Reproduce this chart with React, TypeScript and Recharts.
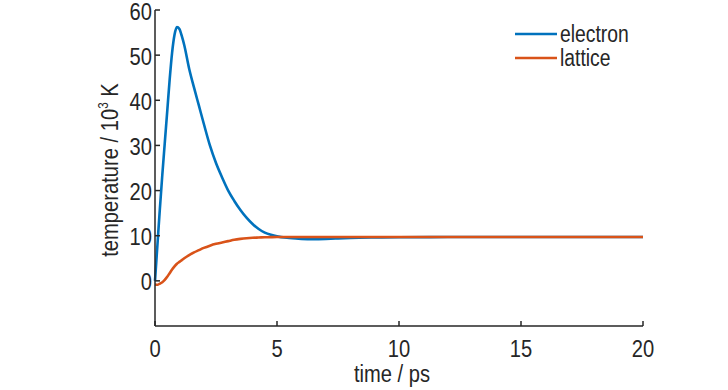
import React from "react";
import { LineChart, Line, XAxis, YAxis, Legend, Label } from "recharts";

// two-temperature model: electron vs lattice temperature (10^3 K) over time (ps)
const times = [
  0, 0.1, 0.2, 0.3, 0.4, 0.5, 0.6, 0.7, 0.8, 0.9, 1.0, 1.1, 1.2, 1.4, 1.6, 1.8, 2.0, 2.25, 2.5,
  2.75, 3.0, 3.25, 3.5, 3.75, 4.0, 4.25, 4.5, 4.75, 5.0, 5.5, 6.0, 6.5, 7.0, 7.5, 8.0, 9.0, 10, 12, 14, 16, 18, 20,
];
const electronTemp = [
  0, 8, 16, 23.5, 30.5, 37.5, 44.5, 50.5, 54.5, 56.2, 55.8, 54.2, 52.2, 47.0, 42.8, 38.8, 34.8, 30.0, 26.1,
  22.9, 20.0, 17.7, 15.7, 14.0, 12.6, 11.5, 10.7, 10.2, 9.85, 9.5, 9.3, 9.25, 9.3, 9.4, 9.5, 9.6, 9.65, 9.7, 9.7, 9.7, 9.7, 9.7,
];
const latticeTemp = [
  -0.8, -0.85, -0.6, -0.3, 0.2, 0.9, 1.7, 2.5, 3.2, 3.8, 4.2, 4.6, 5.0, 5.7, 6.3, 6.8, 7.3, 7.8, 8.2,
  8.5, 8.8, 9.1, 9.3, 9.45, 9.55, 9.6, 9.65, 9.68, 9.7, 9.7, 9.7, 9.7, 9.7, 9.7, 9.7, 9.7, 9.7, 9.7, 9.7, 9.7, 9.7, 9.7,
];
const xTicks = [0, 5, 10, 15, 20];
const yTicks = [0, 10, 20, 30, 40, 50, 60];

const BLUE = "#0072BD";
const ORANGE = "#D95319";
const INK = "#262626";
const FONT = "'Liberation Sans', Arial, sans-serif";
const FS = 24;
const NARROW = 0.84; // the figure uses a condensed face, squeeze regular one

const data = times.map((t, i) => ({ t, electron: electronTemp[i], lattice: latticeTemp[i] }));

function NarrowTick(props: any) {
  const { x, y, payload, textAnchor, dyEm } = props;
  return (
    <g transform={`translate(${x},${y}) scale(${NARROW},1)`}>
      <text
        x={0}
        y={0}
        dy={`${dyEm}em`}
        textAnchor={textAnchor}
        fill={INK}
        style={{ fontFamily: FONT, fontSize: FS }}
      >
        {payload.value}
      </text>
    </g>
  );
}

function YLabel() {
  return (
    <g transform={`translate(118,170) rotate(-90) scale(${NARROW},1)`}>
      <text x={0} y={0} textAnchor="middle" fill={INK} style={{ fontFamily: FONT, fontSize: FS }}>
        temperature / 10
        <tspan fontSize={14} dy={-10}>3</tspan>
        <tspan dy={10}> K</tspan>
      </text>
    </g>
  );
}

function XLabel() {
  return (
    <g transform={`translate(392,382) scale(${NARROW},1)`}>
      <text x={0} y={0} textAnchor="middle" fill={INK} style={{ fontFamily: FONT, fontSize: FS }}>
        time / ps
      </text>
    </g>
  );
}

function LegendBox() {
  const items = [
    { label: "electron", color: BLUE },
    { label: "lattice", color: ORANGE },
  ];
  return (
    <div style={{ fontFamily: FONT, fontSize: 23, color: INK, lineHeight: "24px" }}>
      {items.map((it) => (
        <div key={it.label} style={{ display: "flex", alignItems: "center", height: 24, whiteSpace: "nowrap" }}>
          <svg width={45} height={10} style={{ flex: "none" }}>
            <line x1={0} y1={5} x2={42} y2={5} stroke={it.color} strokeWidth={2.5} />
          </svg>
          <span style={{ display: "inline-block", transform: `scaleX(${NARROW})`, transformOrigin: "left center" }}>
            {it.label}
          </span>
        </div>
      ))}
    </div>
  );
}

export default function App() {
  return (
    <div style={{ position: "absolute", left: 0, top: 0, width: 728, height: 390, background: "#fff" }}>
      <LineChart width={728} height={390} data={data} margin={{ top: 10, right: 85, bottom: 0, left: 95 }}>
        <XAxis
          dataKey="t"
          type="number"
          domain={[0, 20]}
          ticks={xTicks}
          interval={0}
          height={64}
          tick={<NarrowTick dyEm={0.71} />}
          tickSize={-5}
          tickMargin={19}
          stroke={INK}
          strokeWidth={1.5}
        >
          <Label content={XLabel} />
        </XAxis>
        <YAxis
          type="number"
          domain={[-10, 60]}
          ticks={yTicks}
          interval={0}
          width={60}
          tick={<NarrowTick dyEm={0.4} />}
          tickSize={-5}
          tickMargin={8}
          stroke={INK}
          strokeWidth={1.5}
        >
          <Label content={YLabel} />
        </YAxis>
        <Legend
          layout="horizontal"
          verticalAlign="middle"
          align="center"
          content={() => <LegendBox />}
          wrapperStyle={{ left: 515, top: 22, width: 150, height: 48 }}
        />
        <Line
          dataKey="electron"
          type="monotone"
          stroke={BLUE}
          strokeWidth={2.6}
          dot={false}
          isAnimationActive={false}
        />
        <Line
          dataKey="lattice"
          type="monotone"
          stroke={ORANGE}
          strokeWidth={2.6}
          dot={false}
          isAnimationActive={false}
        />
      </LineChart>
    </div>
  );
}
